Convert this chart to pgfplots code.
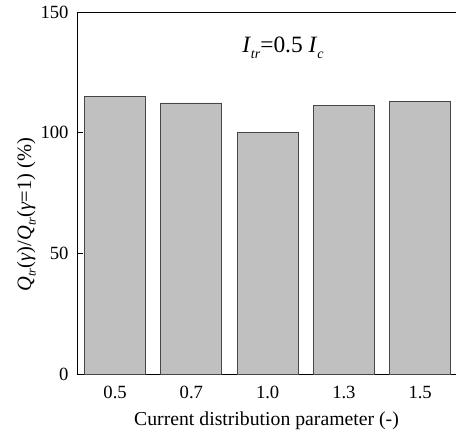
\documentclass[border=0pt]{standalone}
\usepackage{pgfplots}
\pgfplotsset{compat=1.18}
\usepackage{fontspec}
\setmainfont{Liberation Serif}
\definecolor{barfill}{RGB}{192,192,192}
\definecolor{baredge}{RGB}{70,70,70}
\newcommand{\sub}[1]{\raisebox{-4.5bp}{\fontsize{12.5}{12}\selectfont\textit{#1}}}
\newcommand{\bsub}[1]{\raisebox{-6bp}{\fontsize{14}{14}\selectfont\textit{#1}}}
\begin{document}
\begin{tikzpicture}
\begin{axis}[
  scale only axis,
  width=379bp, height=362bp,
  xmin=-0.5, xmax=4.47,
  ymin=0, ymax=150,
  axis x line*=bottom,
  axis y line*=left,
  ytick={0,50,100,150},
  xtick={0,1,2,3,4},
  xticklabels={0.5,0.7,1.0,1.3,1.5},
  x tick style={draw=none},
  y tick style={black, line width=0.8bp},
  tick align=inside,
  major tick length=6bp,
  tick label style={font=\fontsize{18.7}{22}\selectfont},
  /pgf/number format/assume math mode=true,
  xticklabel style={yshift=-9bp},
  yticklabel style={xshift=-5bp},
  xlabel={Current distribution parameter (-)},
  label style={font=\fontsize{19.8}{22}\selectfont},
  xlabel style={yshift=-6bp},
  ylabel={\fontsize{20.5}{22}\selectfont\textit{Q}\sub{tr}(\textit{γ})/\textit{Q}\sub{tr}(\textit{γ}=1) (\%)},
  ylabel style={at={(ticklabel cs:0.44)}, yshift=-2bp},
  axis line style={black, line width=0.8bp},
  clip=false,
]
\draw[black, line width=0.8bp] (rel axis cs:0,1) -- (rel axis cs:1.01,1);
\addplot[ybar, bar width=0.8, fill=barfill, draw=baredge, line width=0.9bp]
  coordinates {(0,114.8) (1,112.3) (2,99.9) (3,111.3) (4,113.1)};
\node[font=\fontsize{23.5}{26}\selectfont, anchor=base] at (axis cs:2.2,133.4)
  {\textit{I}\bsub{tr}=0.5 \textit{I}\bsub{c}};
\end{axis}
\pgfresetboundingbox
\path[use as bounding box] (current axis.south west) ++(-77bp,-60bp) rectangle ([yshift=12bp]current axis.north east);
\end{tikzpicture}
\end{document}
